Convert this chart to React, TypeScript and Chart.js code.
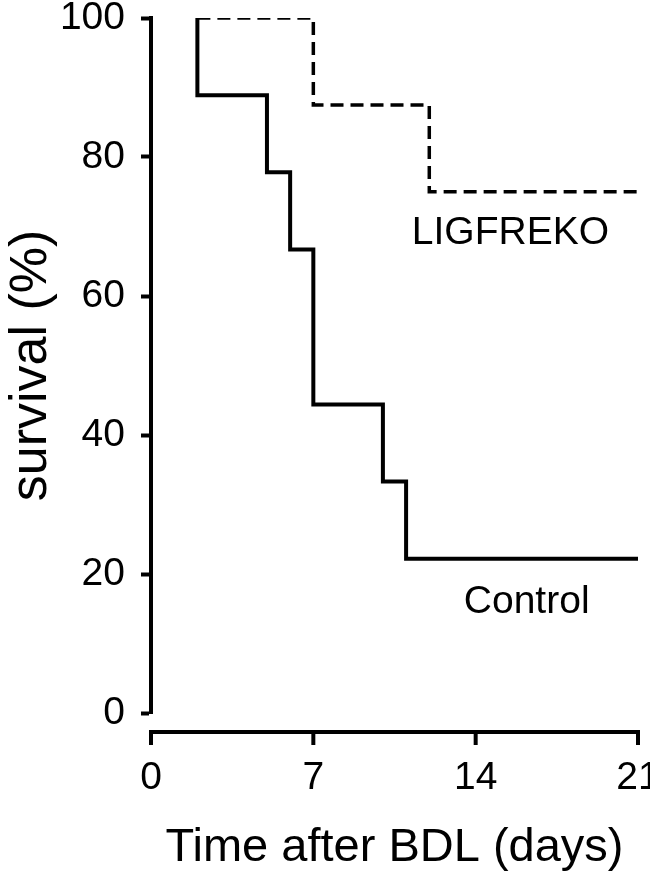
import React, { useEffect, useRef } from 'react';
import { Chart, registerables } from 'chart.js';

Chart.register(...registerables);

// ---- data ----
const xTickValues = [0, 7, 14, 21];
const yTickValues = [0, 20, 40, 60, 80, 100];
const controlDays = [2, 2, 5, 6, 7, 10, 11, 21];
const controlSurvival = [100, 88.9, 77.8, 66.7, 44.4, 33.3, 22.2, 22.2];
const ligDays = [2, 7, 12, 21];
const ligSurvival = [100, 87.5, 75, 75];
const seriesNames = ['Control', 'LIGFREKO'];
const xTitle = 'Time after BDL (days)';
const yTitle = 'survival (%)';

const FONT = "'Liberation Sans', Arial, Helvetica, sans-serif";
const BLACK = '#000000';

// label anchors in data units (day, %)
const labelAnchorDays = [16.2, 15.5];
const labelAnchorSurvival = [15.9, 69.1];

const offsetAxisPlugin = {
  id: 'offsetAxisAndLabels',
  afterDraw(chart: any) {
    const { ctx, chartArea } = chart;
    const xs = chart.scales.x;
    const ys = chart.scales.y;
    const axisY = chartArea.bottom + 19;
    ctx.save();
    ctx.strokeStyle = BLACK;
    ctx.lineWidth = 4;
    ctx.lineCap = 'butt';
    const x0 = xs.getPixelForValue(xTickValues[0]);
    const x1 = xs.getPixelForValue(xTickValues[xTickValues.length - 1]);
    ctx.beginPath();
    ctx.moveTo(x0 - 2, axisY);
    ctx.lineTo(x1 + 2, axisY);
    ctx.stroke();
    for (const v of xTickValues) {
      const px = xs.getPixelForValue(v);
      ctx.beginPath();
      ctx.moveTo(px, axisY);
      ctx.lineTo(px, axisY + 13);
      ctx.stroke();
    }
    // series labels
    ctx.fillStyle = BLACK;
    ctx.font = `39px ${FONT}`;
    ctx.textAlign = 'center';
    ctx.textBaseline = 'middle';
    seriesNames.forEach((name, i) => {
      ctx.fillText(
        name,
        xs.getPixelForValue(labelAnchorDays[i]),
        ys.getPixelForValue(labelAnchorSurvival[i])
      );
    });
    ctx.restore();
  },
};

export default function App() {
  const canvasRef = useRef<HTMLCanvasElement | null>(null);

  useEffect(() => {
    if (!canvasRef.current) return;
    const chart = new Chart(canvasRef.current, {
      type: 'scatter',
      data: {
        datasets: [
          {
            label: seriesNames[0],
            data: controlDays.map((d, i) => ({ x: d, y: controlSurvival[i] })),
            showLine: true,
            stepped: 'before',
            borderColor: BLACK,
            borderWidth: 4,
            pointRadius: 0,
            fill: false,
          },
          {
            label: seriesNames[1],
            data: ligDays.map((d, i) => ({ x: d, y: ligSurvival[i] })),
            showLine: true,
            stepped: 'before',
            borderColor: BLACK,
            borderWidth: 3.5,
            borderDash: [13, 7],
            pointRadius: 0,
            fill: false,
          },
        ],
      },
      plugins: [offsetAxisPlugin],
      options: {
        animation: false,
        responsive: false,
        layout: { padding: { left: 0, right: 12, top: 18, bottom: 0 } },
        plugins: {
          legend: { display: false },
          tooltip: { enabled: false },
        },
        scales: {
          x: {
            type: 'linear',
            min: 0,
            max: 21,
            afterBuildTicks: (s: any) => {
              s.ticks = xTickValues.map((v) => ({ value: v }));
            },
            afterFit: (s: any) => {
              s.height = 163;
              s.paddingLeft = 0;
              s.paddingRight = 0;
            },
            grid: { display: false, drawTicks: false, tickLength: 0 },
            border: { display: false },
            ticks: {
              color: BLACK,
              padding: 42,
              maxRotation: 0,
              autoSkip: false,
              font: { family: FONT, size: 39 },
            },
            title: {
              display: true,
              text: xTitle,
              color: BLACK,
              font: { family: FONT, size: 47 },
              padding: { top: 0, bottom: 0 },
            },
          },
          y: {
            type: 'linear',
            min: 0,
            max: 100,
            afterBuildTicks: (s: any) => {
              s.ticks = yTickValues.map((v) => ({ value: v }));
            },
            afterFit: (s: any) => {
              s.width = 151;
              s.paddingTop = 0;
              s.paddingBottom = 0;
            },
            grid: {
              display: true,
              drawOnChartArea: false,
              drawTicks: true,
              tickLength: 10,
              tickWidth: 4,
              tickColor: BLACK,
              color: BLACK,
            },
            border: { display: true, color: BLACK, width: 4 },
            ticks: {
              color: BLACK,
              padding: 16,
              autoSkip: false,
              font: { family: FONT, size: 39 },
            },
            title: {
              display: true,
              text: yTitle,
              color: BLACK,
              font: { family: FONT, size: 52 },
              padding: { top: 0, bottom: 0 },
            },
          },
        },
      },
    } as any);
    return () => chart.destroy();
  }, []);

  return (
    <div style={{ position: 'absolute', left: 0, top: 0, width: 650, height: 876, background: '#fff' }}>
      <canvas ref={canvasRef} width={650} height={876} style={{ display: 'block' }} />
    </div>
  );
}
